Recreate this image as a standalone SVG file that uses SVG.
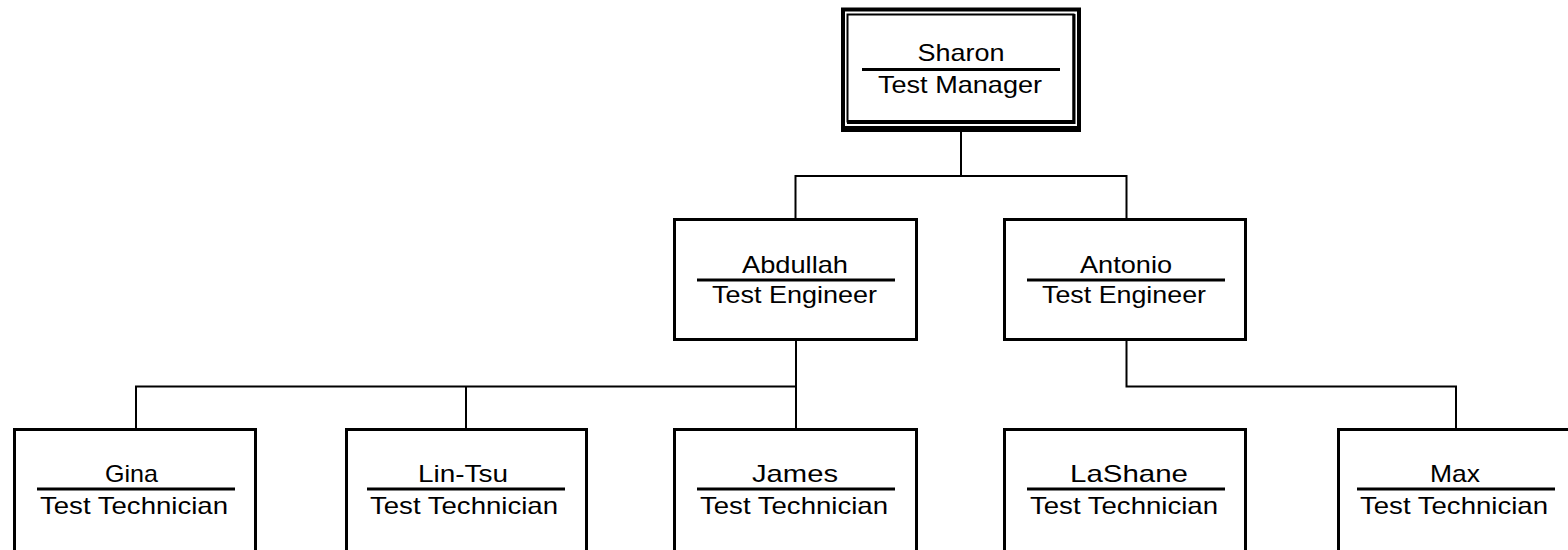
<svg xmlns="http://www.w3.org/2000/svg" width="1568" height="550" viewBox="0 0 1568 550">
<style>
.box{fill:#fff;stroke:#000;stroke-width:3}
.conn{fill:none;stroke:#000;stroke-width:2}
.rule{stroke:#000;stroke-width:3}
.t{font-family:"Liberation Sans",Arial,sans-serif;font-size:24px;fill:#000;text-anchor:middle}
</style>
<rect width="1568" height="550" fill="#fff"/>
<g id="connectors">
<polyline class="conn" points="961,131 961,176"/>
<polyline class="conn" points="795.5,219 795.5,176 1126.5,176 1126.5,219"/>
<polyline class="conn" points="796,340 796,386.5"/>
<polyline class="conn" points="136,429 136,386.5 796,386.5 796,429"/>
<polyline class="conn" points="466,429 466,386.5"/>
<polyline class="conn" points="1126.5,340 1126.5,386.5 1456,386.5 1456,429"/>
</g>
<g id="sharon">
<rect x="843" y="9.5" width="236" height="120" fill="#fff" stroke="#000" stroke-width="4"/>
<line x1="841" y1="129" x2="1081" y2="129" stroke="#000" stroke-width="6"/>
<rect x="847.5" y="14.5" width="226" height="107" fill="none" stroke="#000" stroke-width="2"/>
<line x1="847" y1="122" x2="1075" y2="122" stroke="#000" stroke-width="4"/>
<line x1="1074" y1="14" x2="1074" y2="124" stroke="#000" stroke-width="3"/>
<text class="t" x="961" y="61" textLength="87" lengthAdjust="spacingAndGlyphs">Sharon</text>
<line class="rule" x1="862" y1="69.5" x2="1060" y2="69.5"/>
<text class="t" x="960" y="93" textLength="164" lengthAdjust="spacingAndGlyphs">Test Manager</text>
</g>
<g id="abdullah">
<rect class="box" x="674.5" y="219.5" width="242" height="120"/>
<text class="t" x="795" y="273" textLength="106" lengthAdjust="spacingAndGlyphs">Abdullah</text>
<line class="rule" x1="697" y1="280" x2="895" y2="280"/>
<text class="t" x="794.5" y="303" textLength="165" lengthAdjust="spacingAndGlyphs">Test Engineer</text>
</g>
<g id="antonio">
<rect class="box" x="1004.5" y="219.5" width="241" height="120"/>
<text class="t" x="1126" y="273" textLength="92" lengthAdjust="spacingAndGlyphs">Antonio</text>
<line class="rule" x1="1027" y1="280" x2="1225" y2="280"/>
<text class="t" x="1124" y="303" textLength="164" lengthAdjust="spacingAndGlyphs">Test Engineer</text>
</g>
<g id="gina">
<rect class="box" x="14.5" y="429.5" width="241" height="130"/>
<text class="t" x="131.5" y="481.5" textLength="53" lengthAdjust="spacingAndGlyphs">Gina</text>
<line class="rule" x1="37" y1="489" x2="235" y2="489"/>
<text class="t" x="134" y="514" textLength="188" lengthAdjust="spacingAndGlyphs">Test Technician</text>
</g>
<g id="lintsu">
<rect class="box" x="346.5" y="429.5" width="240" height="130"/>
<text class="t" x="463" y="481.5" textLength="90" lengthAdjust="spacingAndGlyphs">Lin-Tsu</text>
<line class="rule" x1="367" y1="489" x2="565" y2="489"/>
<text class="t" x="464" y="514" textLength="188" lengthAdjust="spacingAndGlyphs">Test Technician</text>
</g>
<g id="james">
<rect class="box" x="674.5" y="429.5" width="242" height="130"/>
<text class="t" x="795" y="481.5" textLength="86" lengthAdjust="spacingAndGlyphs">James</text>
<line class="rule" x1="697" y1="489" x2="895" y2="489"/>
<text class="t" x="794" y="514" textLength="188" lengthAdjust="spacingAndGlyphs">Test Technician</text>
</g>
<g id="lashane">
<rect class="box" x="1004.5" y="429.5" width="241" height="130"/>
<text class="t" x="1129" y="481.5" textLength="118" lengthAdjust="spacingAndGlyphs">LaShane</text>
<line class="rule" x1="1027" y1="489" x2="1225" y2="489"/>
<text class="t" x="1124" y="514" textLength="188" lengthAdjust="spacingAndGlyphs">Test Technician</text>
</g>
<g id="max">
<rect class="box" x="1338.5" y="429.5" width="242" height="130"/>
<text class="t" x="1455" y="481.5" textLength="50" lengthAdjust="spacingAndGlyphs">Max</text>
<line class="rule" x1="1357" y1="489" x2="1555" y2="489"/>
<text class="t" x="1454" y="514" textLength="188" lengthAdjust="spacingAndGlyphs">Test Technician</text>
</g>
</svg>
